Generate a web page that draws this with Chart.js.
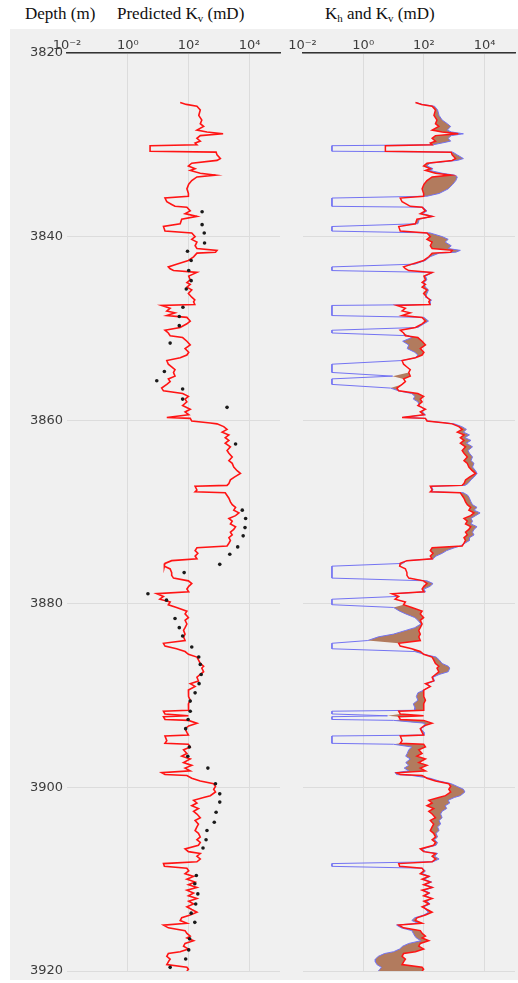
<!DOCTYPE html>
<html>
<head>
<meta charset="utf-8">
<script src="https://cdn.jsdelivr.net/npm/chart.js@4.4.1/dist/chart.umd.min.js"></script>
<style>
  body { margin: 0; background: #fff; width: 518px; height: 983px; position: relative; overflow: hidden; }
  .panel-bg { position: absolute; left: 10px; top: 29px; width: 508px; height: 951px; background: #f0f0f0; }
  .hdr { position: absolute; top: 5px; line-height: 17px; font-family: "Liberation Serif", "Times New Roman", serif;
         font-size: 17px; color: #111; white-space: nowrap; }
  .hdr sub { font-size: 11px; vertical-align: -3px; line-height: 0; }
  canvas { position: absolute; top: 0; }
</style>
</head>
<body>
<div class="panel-bg"></div>
<div class="hdr" style="left:25px">Depth (m)</div>
<div class="hdr" style="left:117px">Predicted K<sub>v</sub> (mD)</div>
<div class="hdr" style="left:325px">K<sub>h</sub> and K<sub>v</sub> (mD)</div>
<canvas id="kvChart" width="290" height="983" style="left:0"></canvas>
<canvas id="khChart" width="243" height="983" style="left:275px"></canvas>

<script>
// depth (m) shared by the log curves
const depthM = [
  3825.4, 3825.6, 3825.8, 3826.2, 3826.8, 3827.3, 3827.7, 3828.0, 3828.4, 3828.6,
  3828.8, 3829.0, 3829.3, 3829.6, 3829.8, 3830.0, 3830.1, 3830.7, 3830.8, 3831.1,
  3831.5, 3831.7, 3832.0, 3832.3, 3832.6, 3832.8, 3833.1, 3833.3, 3833.5, 3833.9,
  3834.3, 3834.8, 3835.3, 3835.6, 3835.8, 3836.2, 3836.5, 3836.7, 3836.8, 3837.2,
  3837.5, 3837.8, 3838.1, 3838.6, 3838.9, 3839.4, 3839.6, 3840.0, 3840.3, 3840.6,
  3841.0, 3841.3, 3841.5, 3841.7, 3841.8, 3842.2, 3842.6, 3843.0, 3843.3, 3843.5,
  3843.7, 3843.9, 3844.3, 3844.7, 3845.0, 3845.2, 3845.5, 3845.8, 3846.2, 3846.6,
  3846.9, 3847.1, 3847.4, 3847.5, 3847.8, 3848.1, 3848.3, 3848.6, 3848.8, 3849.2,
  3849.5, 3849.9, 3850.2, 3850.5, 3850.8, 3851.0, 3851.4, 3851.8, 3852.2, 3852.6,
  3852.9, 3853.2, 3853.5, 3853.9, 3854.2, 3854.5, 3854.8, 3855.2, 3855.5, 3855.8,
  3856.1, 3856.5, 3856.8, 3857.1, 3857.4, 3857.7, 3858.0, 3858.4, 3858.8, 3859.1,
  3859.4, 3859.7, 3859.8, 3860.1, 3860.3, 3860.4, 3860.7, 3861.0, 3861.3, 3861.6,
  3861.9, 3862.2, 3862.5, 3862.9, 3863.3, 3863.6, 3864.0, 3864.4, 3864.7, 3865.1,
  3865.5, 3865.8, 3866.2, 3866.5, 3866.9, 3867.1, 3867.2, 3867.6, 3867.8, 3867.9,
  3868.2, 3868.5, 3868.9, 3869.2, 3869.5, 3869.8, 3870.1, 3870.4, 3870.7, 3871.0,
  3871.3, 3871.6, 3871.9, 3872.2, 3872.5, 3872.8, 3873.1, 3873.4, 3873.7, 3873.9,
  3874.2, 3874.5, 3874.8, 3875.1, 3875.3, 3875.6, 3875.9, 3876.2, 3876.6, 3876.9,
  3877.2, 3877.5, 3877.8, 3878.1, 3878.4, 3878.7, 3878.9, 3879.2, 3879.5, 3879.8,
  3880.1, 3880.4, 3880.8, 3881.1, 3881.5, 3881.8, 3882.2, 3882.6, 3882.9, 3883.3,
  3883.6, 3884.0, 3884.3, 3884.6, 3884.9, 3885.2, 3885.5, 3885.8, 3886.1, 3886.5,
  3886.8, 3887.0, 3887.4, 3887.7, 3888.0, 3888.4, 3888.7, 3889.0, 3889.4, 3889.7,
  3890.1, 3890.5, 3890.9, 3891.3, 3891.6, 3891.7, 3892.0, 3892.2, 3892.3, 3892.6,
  3892.7, 3893.0, 3893.3, 3893.6, 3894.0, 3894.3, 3894.4, 3894.9, 3895.2, 3895.3,
  3895.6, 3895.9, 3896.3, 3896.6, 3896.9, 3897.3, 3897.6, 3897.9, 3898.2, 3898.4,
  3898.6, 3898.7, 3899.0, 3899.3, 3899.6, 3899.9, 3900.2, 3900.5, 3900.9, 3901.1,
  3901.4, 3901.7, 3902.0, 3902.3, 3902.6, 3902.9, 3903.3, 3903.6, 3904.0, 3904.3,
  3904.7, 3905.0, 3905.4, 3905.7, 3906.0, 3906.3, 3906.7, 3907.0, 3907.2, 3907.5,
  3907.8, 3908.1, 3908.3, 3908.6, 3908.8, 3909.1, 3909.4, 3909.7, 3910.0, 3910.3,
  3910.6, 3910.9, 3911.2, 3911.5, 3911.8, 3912.1, 3912.4, 3912.7, 3913.0, 3913.3,
  3913.6, 3913.9, 3914.2, 3914.5, 3914.8, 3915.0, 3915.3, 3915.6, 3915.9, 3916.2,
  3916.4, 3916.7, 3917.0, 3917.3, 3917.6, 3917.9, 3918.1, 3918.4, 3918.7, 3919.0,
  3919.3, 3919.6, 3919.8, 3920.0
];

// predicted Kv, log10(mD)
const kvLog10 = [
  1.72, 1.92, 2.27, 2.38, 2.33, 2.43, 2.38, 2.49, 2.27, 2.6,
  3.13, 2.38, 2.27, 2.38, 2.21, 2.27, 0.73, 0.73, 2.9, 2.93,
  3.04, 2.93, 2.1, 1.99, 2.21, 2.05, 2.38, 2.88, 2.27, 2.1,
  2.0, 1.94, 1.99, 1.99, 1.22, 1.28, 1.44, 1.55, 1.94, 2.05,
  1.88, 2.27, 1.77, 1.72, 1.17, 1.22, 2.1, 2.21, 2.1, 2.27,
  2.21, 2.27, 2.93, 2.88, 2.27, 2.16, 1.99, 1.6, 1.33, 1.39,
  1.5, 2.27, 2.0, 2.05, 1.94, 2.05, 1.94, 2.1, 1.99, 2.1,
  2.2, 2.16, 2.2, 1.11, 1.39, 1.28, 1.55, 1.28, 1.94, 2.05,
  1.94, 1.72, 1.22, 1.33, 1.39, 1.8, 1.94, 2.05, 1.88, 2.0,
  1.94, 1.72, 1.28, 1.33, 1.44, 1.55, 1.5, 1.55, 1.33, 1.39,
  1.28, 1.11, 1.17, 1.8, 1.99, 1.88, 1.94, 1.8, 2.05, 1.88,
  2.0, 1.28, 2.05, 2.1, 2.71, 2.93, 3.15, 3.26, 3.1, 3.32,
  3.2, 3.32, 3.2, 3.37, 3.26, 3.32, 3.43, 3.32, 3.43, 3.48,
  3.59, 3.7, 3.5, 3.37, 3.32, 3.26, 2.21, 2.27, 2.21, 3.2,
  3.26, 3.32, 3.37, 3.43, 3.54, 3.48, 3.65, 3.54, 3.32, 3.43,
  3.37, 3.54, 3.48, 3.37, 3.43, 3.32, 3.37, 3.32, 3.26, 2.27,
  2.21, 2.3, 2.21, 2.27, 1.44, 1.22, 1.2, 1.39, 1.44, 1.44,
  1.5, 1.99, 2.1, 2.0, 1.94, 2.0, 0.95, 1.17, 1.05, 1.39,
  1.33, 1.6, 1.94, 1.88, 1.99, 1.88, 1.94, 1.88, 1.83, 1.88,
  1.83, 1.88, 1.17, 1.22, 1.6, 1.88, 1.99, 2.27, 2.32, 2.38,
  2.49, 2.43, 2.49, 2.38, 2.27, 2.32, 2.05, 2.21, 1.99, 2.0,
  1.99, 2.05, 1.99, 2.0, 1.99, 1.17, 1.22, 1.99, 1.17, 1.22,
  1.99, 2.27, 2.0, 1.88, 1.94, 1.99, 1.22, 1.28, 1.22, 1.99,
  2.05, 1.83, 1.94, 1.77, 2.05, 1.83, 2.1, 1.88, 2.05, 1.11,
  1.22, 1.94, 2.1, 2.38, 2.82, 2.88, 2.82, 2.88, 2.71, 2.49,
  2.16, 2.27, 2.1, 2.32, 2.16, 2.27, 2.38, 2.21, 2.32, 2.27,
  2.21, 2.32, 2.38, 2.27, 2.38, 2.32, 1.88, 1.99, 2.38, 2.27,
  2.38, 2.27, 1.17, 1.2, 1.94, 2.0, 1.88, 2.16, 1.94, 2.21,
  1.99, 2.27, 1.94, 2.16, 1.99, 2.27, 2.0, 2.16, 1.94, 2.1,
  2.27, 2.05, 1.77, 1.72, 1.94, 1.17, 1.33, 1.88, 1.94, 2.05,
  1.94, 2.16, 1.88, 1.83, 1.99, 1.72, 1.33, 1.28, 1.39, 1.33,
  1.28, 1.94, 1.99, 1.94
];

// Kh, log10(mD); -1.03 marks the flat 0.1 mD stretches
const khLog10 = [
  1.75, 1.95, 2.35, 2.45, 2.5, 2.6, 2.77, 2.88, 2.77, 2.9,
  3.3, 2.9, 2.8, 2.88, 2.6, 2.3, -1.03, -1.03, 2.95, 3.1,
  3.3, 3.1, 2.2, 2.1, 2.3, 2.2, 2.6, 3.0, 3.1, 3.05,
  2.95, 2.8, 2.5, 2.1, -1.03, -1.03, -1.03, -1.03, 1.97, 2.1,
  1.95, 2.3, 1.85, 1.8, -1.03, -1.03, 2.2, 2.6, 2.8, 2.7,
  2.9, 2.8, 3.2, 3.05, 2.5, 2.2, 2.05, 1.7, -1.03, -1.03,
  -1.03, 2.3, 2.05, 2.1, 2.0, 2.0, 2.05, 2.15, 2.1, 2.05,
  2.25, 2.2, 2.2, -1.03, -1.03, -1.03, -1.03, -1.03, 2.0, 2.15,
  2.0, 1.8, -1.03, -1.03, 1.5, 1.6, 1.3, 1.5, 1.45, 1.7,
  1.8, 1.72, 1.28, -1.03, -1.03, -1.03, -1.03, 0.97, -1.03, -1.03,
  -1.03, 0.9, 1.17, 1.6, 1.7, 1.65, 1.8, 1.85, 2.0, 1.95,
  2.05, 1.3, 2.05, 2.15, 2.75, 3.0, 3.25, 3.4, 3.3, 3.5,
  3.35, 3.55, 3.4, 3.6, 3.45, 3.5, 3.6, 3.55, 3.65, 3.6,
  3.7, 3.75, 3.65, 3.55, 3.45, 3.35, 2.25, 2.3, 2.25, 3.3,
  3.45, 3.5, 3.55, 3.6, 3.75, 3.65, 3.85, 3.7, 3.55, 3.6,
  3.55, 3.75, 3.65, 3.6, 3.65, 3.5, 3.5, 3.35, 3.2, 3.0,
  2.75, 2.6, 2.4, 2.3, 1.44, 1.3, -1.03, -1.03, -1.03, -1.03,
  -1.03, 2.1, 2.3, 2.2, 2.0, 2.05, 1.0, 1.1, -1.03, -1.03,
  -1.03, 1.0, 1.2, 1.4, 1.7, 1.8, 1.9, 1.7, 1.4, 1.0,
  0.5, 0.15, -1.03, -1.03, -1.03, 1.7, 2.0, 2.4, 2.5, 2.6,
  2.8, 2.85, 2.8, 2.5, 2.3, 2.35, 2.1, 2.2, 2.0, 1.8,
  1.75, 1.8, 1.65, 1.7, 1.7, -1.03, -1.03, 0.8, -1.03, -1.03,
  1.0, 2.0, 2.05, 1.9, 2.0, 2.0, -1.03, -1.03, -1.03, 1.0,
  1.6, 1.5, 1.45, 1.4, 1.55, 1.4, 1.5, 1.35, 1.5, 1.05,
  1.1, 1.6, 2.2, 2.5, 2.9, 3.1, 3.3, 3.35, 3.2, 3.0,
  2.8, 2.85, 2.7, 2.75, 2.6, 2.55, 2.6, 2.5, 2.55, 2.45,
  2.5, 2.4, 2.45, 2.35, 2.45, 2.4, 1.95, 2.05, 2.45, 2.35,
  2.5, 2.3, -1.03, -1.03, 1.94, 2.05, 1.95, 2.2, 2.0, 2.25,
  2.05, 2.3, 2.0, 2.2, 2.05, 2.25, 2.1, 2.2, 2.0, 2.05,
  2.15, 2.0, 1.7, 1.6, 1.8, 1.1, 1.25, 1.6, 1.65, 1.7,
  1.75, 1.9, 1.5, 1.3, 1.2, 1.0, 0.7, 0.5, 0.4, 0.4,
  0.45, 0.6, 0.55, 0.5
];

// core measurements (black dots), log10(mD)
const coreDepthM = [
  3837.3, 3838.7, 3839.6, 3840.7, 3841.6, 3842.6, 3843.7, 3844.8, 3845.7, 3847.7,
  3848.7, 3849.7, 3851.6, 3854.7, 3855.7, 3856.6, 3857.7, 3858.6, 3862.6, 3869.8,
  3870.7, 3871.7, 3872.6, 3873.8, 3874.6, 3875.7, 3876.6, 3878.9, 3879.6, 3881.6,
  3882.6, 3883.5, 3884.7, 3885.8, 3886.6, 3887.7, 3888.7, 3889.7, 3890.6, 3891.7,
  3892.6, 3893.6, 3895.6, 3896.6, 3897.9, 3899.6, 3900.7, 3901.6, 3902.7, 3903.8,
  3904.7, 3905.7, 3906.6, 3909.6, 3910.5, 3911.6, 3912.7, 3913.7, 3914.7, 3916.5,
  3917.7, 3918.7, 3919.6
];
const coreKvLog10 = [
  2.44, 2.44, 2.51, 2.52, 1.96, 2.08, 2.0, 2.08, 1.92, 1.81,
  1.69, 1.69, 1.39, 1.2, 0.95, 1.8, 1.8, 3.26, 3.54, 3.76,
  3.87, 3.85, 3.79, 3.61, 3.35, 3.02, 1.85, 0.66, 1.27, 1.55,
  1.69, 1.8, 2.1, 2.33, 2.38, 2.41, 2.34, 2.21, 2.05, 2.05,
  1.98, 1.9, 2.02, 1.97, 2.63, 2.88, 3.02, 3.02, 2.9, 2.84,
  2.6, 2.57, 2.47, 2.25, 2.2, 2.3, 2.23, 2.08, 2.2, 2.03,
  2.0, 1.9, 1.39
];

const tickPowers = [-2, 0, 2, 4];
const depthTicks = [3820, 3840, 3860, 3880, 3900, 3920];

const SUP = { '-': '\u207B', '0': '\u2070', '1': '\u00B9', '2': '\u00B2', '3': '\u00B3', '4': '\u2074', '5': '\u2075' };
const powLabel = v => '10' + String(v).split('').map(c => SUP[c]).join('');

const gridColor = '#dcdcdc';
const tickFont = { family: 'DejaVu Sans', size: 13 };

function makeScales(yWidth, showDepth) {
  return {
    x: {
      type: 'linear',
      position: 'top',
      min: -2,
      max: 5,
      afterBuildTicks: s => { s.ticks = tickPowers.map(v => ({ value: v })); },
      afterFit: s => { s.height = 53; s.paddingLeft = 0; s.paddingRight = 0; },
      ticks: { callback: v => powLabel(v), font: tickFont, color: '#3c3c3c', padding: 0, maxRotation: 0, autoSkip: false },
      grid: { color: c => (c.tick && c.tick.value === -2) ? 'rgba(0,0,0,0)' : gridColor, drawTicks: false },
      border: { display: true, color: '#333', width: 1.5 }
    },
    y: {
      type: 'linear',
      reverse: true,
      min: 3820,
      max: 3920,
      afterBuildTicks: s => { s.ticks = depthTicks.map(v => ({ value: v })); },
      afterFit: s => { s.width = yWidth; s.paddingTop = 0; s.paddingBottom = 0; },
      ticks: { display: showDepth, callback: v => String(v), font: tickFont, color: '#3c3c3c', padding: 4 },
      grid: { color: gridColor, drawTicks: false },
      border: { display: false }
    }
  };
}

const kvPoints = depthM.map((d, i) => ({ x: kvLog10[i], y: d }));
const khPoints = depthM.map((d, i) => ({ x: khLog10[i], y: d }));
// the 0.1 mD flag intervals are not shaded
const khShade = depthM.map((d, i) => ({ x: khLog10[i] < -0.5 ? kvLog10[i] : khLog10[i], y: d }));
const corePoints = coreDepthM.map((d, i) => ({ x: coreKvLog10[i], y: d }));

const commonOpts = {
  responsive: false,
  animation: false,
  indexAxis: 'y',
  events: [],
  plugins: { legend: { display: false }, tooltip: { enabled: false }, filler: { drawTime: 'beforeDatasetsDraw' } },
  elements: { point: { radius: 0 }, line: { tension: 0 } }
};

new Chart(document.getElementById('kvChart'), {
  type: 'line',
  data: {
    datasets: [
      { data: corePoints, showLine: false, pointRadius: 1.8, pointBackgroundColor: '#1a1a1a', pointBorderWidth: 0, order: 0 },
      { data: kvPoints, borderColor: '#ff1414', borderWidth: 1.6, fill: false, order: 1 }
    ]
  },
  options: { ...commonOpts, layout: { padding: { left: 0, top: 0, right: 10, bottom: 12 } }, scales: makeScales(67, true) }
});

new Chart(document.getElementById('khChart'), {
  type: 'line',
  data: {
    datasets: [
      { data: kvPoints, borderColor: '#ff1414', borderWidth: 1.5, fill: false, order: 0 },
      { data: khPoints, borderColor: '#7373f2', borderWidth: 1, fill: false, order: 1 },
      { data: khShade, borderWidth: 0, borderColor: 'rgba(0,0,0,0)', backgroundColor: '#b27b5e', fill: 0, order: 2 }
    ]
  },
  options: { ...commonOpts, layout: { padding: { left: 0, top: 0, right: 3, bottom: 12 } }, scales: makeScales(27.5, false) }
});
</script>
</body>
</html>
